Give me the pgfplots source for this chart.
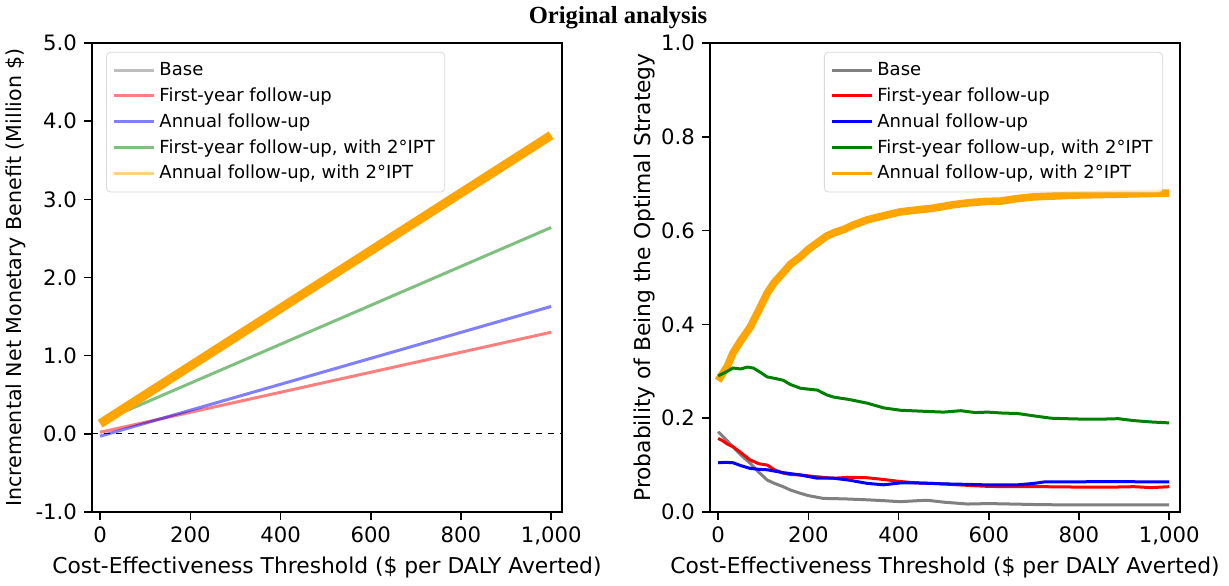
\documentclass[border=0pt]{standalone}
\usepackage{fontspec}
\setmainfont{DejaVu Sans}
\newfontfamily\titlefont{Liberation Serif}
\usepackage{pgfplots}
\pgfplotsset{compat=1.18}
\definecolor{mpgray}{RGB}{128,128,128}
\definecolor{mpgreen}{RGB}{0,128,0}
\definecolor{mporange}{RGB}{255,165,0}
\pgfplotsset{
  myaxis/.style={
    scale only axis, width=235pt, height=234.5pt,
    xmin=-18, xmax=1024,
    xtick={0,200,400,600,800,1000},
    xticklabels={0,200,400,600,800,{1,000}},
    tick align=outside, tick pos=left,
    major tick length=4pt,
    axis line style={line width=0.8pt},
    every tick/.style={line width=0.8pt, black},
    tick label style={font=\fontsize{10.6}{12}\selectfont},
    label style={font=\fontsize{10.9}{12}\selectfont},
    xlabel={Cost-Effectiveness Threshold (\$ per DALY Averted)},
    xlabel style={at={(axis description cs:0.5,-0.119)}, anchor=center},
    legend style={font=\fontsize{9}{11}\selectfont, draw=black!15, rounded corners=2pt,
      fill=white, fill opacity=0.8, text opacity=1, row sep=0.6pt,
      inner xsep=3pt, inner ysep=3pt},
    legend cell align=left,
    legend image code/.code={\draw[##1, line width=1.5pt] (0pt,0pt) -- (20pt,0pt);},
  }
}
\begin{document}
\begin{tikzpicture}
\useasboundingbox (-46pt,-36.5pt) rectangle (568.5pt,256pt);
\begin{axis}[myaxis,
  ymin=-1, ymax=5,
  ytick={-1,0,1,2,3,4,5},
  yticklabels={-1.0,0.0,1.0,2.0,3.0,4.0,5.0},
  ylabel={Incremental Net Monetary Benefit (Million \$)},
  ylabel style={at={(axis description cs:-0.162,0.5)}, anchor=center, font=\fontsize{10.3}{12}\selectfont},
  legend style={at={(axis description cs:0.03,0.981)}, anchor=north west},
]
\addlegendimage{mpgray, opacity=0.5}
\addlegendentry{Base}
\addplot[red, opacity=0.5, line width=1.5pt] coordinates {(0,0.02) (1000,1.30)};
\addlegendentry{First-year follow-up}
\addplot[blue, opacity=0.5, line width=1.5pt] coordinates {(0,-0.03) (1000,1.63)};
\addlegendentry{Annual follow-up}
\addplot[mpgreen, opacity=0.5, line width=1.5pt] coordinates {(0,0.15) (1000,2.64)};
\addlegendentry{First-year follow-up, with 2°IPT}
\addlegendimage{mporange, opacity=0.5}
\addlegendentry{Annual follow-up, with 2°IPT}
\addplot[mporange, line width=4.5pt, forget plot] coordinates {(0,0.13) (1000,3.82)};
\addplot[black, dashed, line width=0.6pt, forget plot] coordinates {(-18,0) (1024,0)};
\end{axis}
\node[font=\titlefont\bfseries\fontsize{12.3}{14}\selectfont] at (263pt,247pt) {Original analysis};
\begin{axis}[myaxis, at={(309pt,0pt)},
  ymin=0, ymax=1,
  ytick={0,0.2,0.4,0.6,0.8,1},
  yticklabels={0.0,0.2,0.4,0.6,0.8,1.0},
  ylabel={Probability of Being the Optimal Strategy},
  ylabel style={at={(axis description cs:-0.14,0.5)}, anchor=center},
  legend style={at={(axis description cs:0.964,0.981)}, anchor=north east},
]
\addplot[mpgray, line width=1.5pt] coordinates {
(0,0.171) (10,0.162) (20,0.152) (33,0.139) (50,0.122) (71,0.104) (90,0.085) (109,0.068)
(125,0.061) (144,0.054) (160,0.047) (182,0.040) (200,0.035) (233,0.029) (280,0.028)
(331,0.026) (370,0.024) (404,0.022) (440,0.024) (464,0.025) (500,0.021) (553,0.017)
(600,0.018) (650,0.017) (700,0.016) (776,0.015) (850,0.015) (900,0.015) (1000,0.015)};
\addlegendentry{Base}
\addplot[red, line width=1.5pt] coordinates {
(0,0.157) (10,0.152) (20,0.145) (33,0.139) (50,0.127) (71,0.111) (90,0.103) (109,0.100)
(125,0.090) (144,0.083) (160,0.080) (182,0.079) (220,0.075) (256,0.072) (290,0.074)
(331,0.073) (370,0.069) (404,0.065) (440,0.062) (478,0.061) (530,0.058) (589,0.055)
(630,0.054) (664,0.054) (720,0.054) (811,0.053) (870,0.053) (922,0.054) (960,0.052) (1000,0.054)};
\addlegendentry{First-year follow-up}
\addplot[blue, line width=1.5pt] coordinates {
(0,0.105) (15,0.106) (33,0.105) (50,0.099) (71,0.093) (90,0.091) (109,0.090) (144,0.084)
(182,0.079) (220,0.072) (256,0.072) (290,0.068) (331,0.061) (367,0.058) (404,0.062)
(441,0.062) (500,0.060) (550,0.059) (589,0.058) (664,0.058) (700,0.061) (722,0.064)
(780,0.064) (849,0.065) (900,0.065) (950,0.064) (1000,0.064)};
\addlegendentry{Annual follow-up}
\addlegendimage{mpgreen}
\addlegendentry{First-year follow-up, with 2°IPT}
\addlegendimage{mporange}
\addlegendentry{Annual follow-up, with 2°IPT}
\addplot[mporange, line width=3.8pt, forget plot] coordinates {
(0,0.280) (10,0.295) (20,0.310) (33,0.339) (50,0.365) (71,0.394) (90,0.430) (109,0.467)
(125,0.490) (144,0.510) (160,0.528) (182,0.544) (200,0.560) (220,0.574) (240,0.588)
(256,0.595) (280,0.603) (300,0.612) (331,0.623) (360,0.630) (404,0.640) (440,0.644)
(478,0.648) (520,0.655) (553,0.659) (590,0.662) (627,0.663) (660,0.668) (700,0.672)
(750,0.674) (800,0.676) (850,0.677) (900,0.678) (950,0.679) (1000,0.680)};
\addplot[mpgreen, line width=1.5pt, forget plot] coordinates {
(0,0.290) (10,0.295) (20,0.300) (33,0.307) (50,0.305) (65,0.309) (78,0.307) (95,0.297)
(109,0.288) (125,0.285) (144,0.281) (160,0.272) (182,0.264) (200,0.262) (220,0.260)
(240,0.250) (256,0.245) (290,0.240) (331,0.232) (367,0.222) (404,0.217) (450,0.215)
(500,0.213) (538,0.216) (570,0.212) (598,0.213) (630,0.211) (664,0.210) (700,0.205)
(738,0.200) (770,0.199) (811,0.198) (850,0.198) (887,0.199) (920,0.195) (960,0.192) (1000,0.190)};
\end{axis}
\end{tikzpicture}
\end{document}
